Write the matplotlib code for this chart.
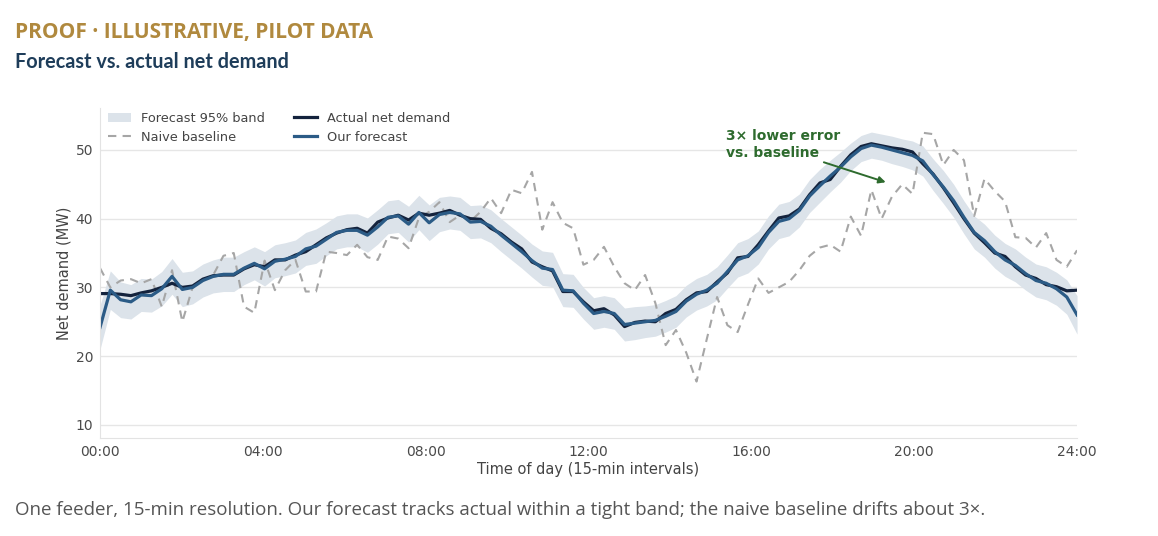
import matplotlib.pyplot as plt
import numpy as np

# 15-min steps over one day (96 readings)
n_steps = 96
hours = np.linspace(0, 24, n_steps)

actual = [29.1, 29.1, 29.0, 28.8, 29.2, 29.5, 30.0, 30.6, 30.0, 30.2,
          31.2, 31.7, 31.8, 31.8, 32.7, 33.3, 33.0, 34.0, 34.0, 34.7,
          35.2, 36.2, 37.2, 37.9, 38.4, 38.6, 37.9, 39.5, 40.1, 40.5,
          39.8, 40.8, 40.5, 40.8, 41.2, 40.5, 40.0, 39.9, 38.6, 37.8,
          36.6, 35.6, 33.7, 33.0, 32.4, 29.4, 29.4, 27.9, 26.6, 26.9,
          26.0, 24.3, 24.9, 25.1, 25.0, 26.2, 26.8, 28.2, 29.2, 29.4,
          30.8, 32.1, 34.3, 34.5, 36.2, 38.2, 40.1, 40.4, 41.4, 43.5,
          45.2, 45.7, 47.6, 49.3, 50.5, 50.9, 50.6, 50.3, 50.1, 49.7,
          48.0, 46.5, 44.5, 42.3, 40.0, 37.9, 36.5, 35.0, 34.5, 33.0,
          31.8, 31.3, 30.4, 30.1, 29.5, 29.6]

forecast = [24.2, 29.6, 28.2, 27.9, 28.9, 28.8, 29.8, 31.6, 29.7, 30.0,
            31.0, 31.6, 31.9, 31.9, 32.8, 33.5, 32.7, 33.8, 34.1, 34.5,
            35.6, 36.0, 37.0, 38.0, 38.3, 38.3, 37.6, 38.8, 40.2, 40.4,
            39.2, 40.9, 39.4, 40.6, 40.9, 40.7, 39.5, 39.6, 38.9, 37.6,
            36.4, 35.2, 33.9, 32.8, 32.6, 29.6, 29.5, 27.7, 26.2, 26.5,
            26.2, 24.6, 24.8, 25.0, 25.2, 25.8, 26.5, 28.0, 29.0, 29.6,
            30.6, 32.3, 34.0, 34.6, 35.8, 38.0, 39.6, 40.0, 41.2, 43.3,
            44.8, 46.2, 47.5, 49.0, 50.2, 50.7, 50.4, 50.0, 49.6, 49.2,
            48.4, 46.4, 44.6, 42.6, 40.2, 38.0, 36.8, 35.2, 34.0, 33.2,
            32.0, 31.0, 30.6, 29.8, 28.6, 26.0]

# half-width of the 95% band around the forecast
band_half = [3.2, 2.8, 2.6, 2.5, 2.4, 2.4, 2.5, 2.6, 2.5, 2.4,
             2.4, 2.4, 2.5, 2.5, 2.4, 2.4, 2.5, 2.4, 2.4, 2.4,
             2.4, 2.5, 2.4, 2.4, 2.4, 2.4, 2.5, 2.5, 2.4, 2.4,
             2.6, 2.5, 2.6, 2.5, 2.4, 2.4, 2.4, 2.4, 2.4, 2.4,
             2.4, 2.4, 2.4, 2.5, 2.5, 2.4, 2.4, 2.3, 2.3, 2.3,
             2.3, 2.4, 2.4, 2.3, 2.3, 2.3, 2.3, 2.3, 2.3, 2.3,
             2.4, 2.4, 2.5, 2.5, 2.4, 2.4, 2.5, 2.5, 2.4, 2.4,
             2.4, 2.3, 2.2, 2.0, 1.9, 1.9, 1.9, 2.0, 2.0, 2.1,
             2.2, 2.3, 2.4, 2.4, 2.4, 2.4, 2.4, 2.4, 2.4, 2.4,
             2.4, 2.4, 2.4, 2.4, 2.5, 2.8]

naive = [32.8, 30.0, 31.0, 31.2, 30.6, 31.2, 27.2, 32.5, 25.0, 30.0,
         31.0, 31.8, 34.6, 35.0, 27.2, 26.3, 33.9, 29.6, 32.5, 34.0,
         29.4, 29.4, 35.2, 35.0, 34.7, 36.2, 34.4, 34.0, 37.4, 37.1,
         35.7, 40.1, 41.0, 42.4, 39.5, 40.5, 39.6, 41.0, 43.0, 40.8,
         44.2, 43.7, 46.8, 38.4, 42.4, 39.4, 38.6, 33.3, 34.0, 35.9,
         33.0, 30.6, 29.6, 31.8, 27.7, 21.6, 23.8, 20.5, 16.3, 22.5,
         28.6, 24.5, 23.5, 27.5, 31.3, 29.2, 30.0, 30.8, 32.5, 34.6,
         35.8, 36.2, 35.2, 40.3, 37.5, 44.2, 40.0, 43.2, 45.0, 43.6,
         52.5, 52.3, 47.8, 50.0, 48.5, 40.4, 45.8, 44.0, 42.5, 37.3,
         37.2, 35.8, 37.9, 34.0, 33.0, 35.4]

tick_hours = [0, 4, 8, 12, 16, 20, 24]
tick_labels = ["00:00", "04:00", "08:00", "12:00", "16:00", "20:00", "24:00"]
y_ticks = [10, 20, 30, 40, 50]

forecast = np.array(forecast)
band_half = np.array(band_half)

fig = plt.figure(figsize=(11.58, 5.36), dpi=100)
ax = fig.add_axes([0.0864, 0.183, 0.8437, 0.6155])

ax.fill_between(hours, forecast - band_half, forecast + band_half,
                color="#dce3ea", lw=0, label="Forecast 95% band")
ax.plot(hours, naive, color="#a6a6a6", lw=1.5, ls=(0, (4, 3)), label="Naive baseline")
ax.plot(hours, actual, color="#14233d", lw=2.3, label="Actual net demand")
ax.plot(hours, forecast, color="#2b5b86", lw=2.3, label="Our forecast")

ax.set_xlim(0, 24)
ax.set_ylim(8.1, 56.1)
ax.set_xticks(tick_hours)
ax.set_xticklabels(tick_labels)
ax.set_yticks(y_ticks)
ax.tick_params(length=0, labelsize=10, colors="#4a4a4a", pad=5)
ax.grid(axis="y", color="#e6e6e6", lw=1)
ax.set_axisbelow(True)
for s in ["top", "right"]:
    ax.spines[s].set_visible(False)
for s in ["left", "bottom"]:
    ax.spines[s].set_color("#e3e3e3")
ax.set_xlabel("Time of day (15-min intervals)", fontsize=10.5, color="#444444", labelpad=2)
ax.set_ylabel("Net demand (MW)", fontsize=10.5, color="#444444", labelpad=3)

ax.legend(loc="upper left", ncol=2, frameon=False, fontsize=9.3, labelcolor="#444444",
          handlelength=1.8, handletextpad=0.8, columnspacing=2.2, labelspacing=0.45,
          borderaxespad=0.2, bbox_to_anchor=(0.0, 1.012))

ax.annotate("3× lower error\nvs. baseline", xy=(19.3, 45.3), xytext=(15.38, 53.0),
            fontsize=10, fontweight="bold", color="#2e6b2e", va="top", ha="left",
            arrowprops=dict(arrowstyle="-|>", color="#2e6b2e", lw=1.4,
                            shrinkA=0, shrinkB=0, mutation_scale=10,
                            relpos=(0.78, 0.0)))

fig.text(0.013, 0.94, "PROOF · ILLUSTRATIVE, PILOT DATA", fontsize=15, fontweight="bold",
         color="#b0893e", family="Open Sans", va="center")
fig.text(0.013, 0.885, "Forecast vs. actual net demand", fontsize=14.3, fontweight="bold",
         color="#1e3d5a", family="Lato", va="center")
fig.text(0.013, 0.048, "One feeder, 15-min resolution. Our forecast tracks actual within a tight band; "
         "the naive baseline drifts about 3×.", fontsize=13.5, color="#555555",
         family="Open Sans", va="center")

fig.savefig("out.png", dpi=100, facecolor="white")
